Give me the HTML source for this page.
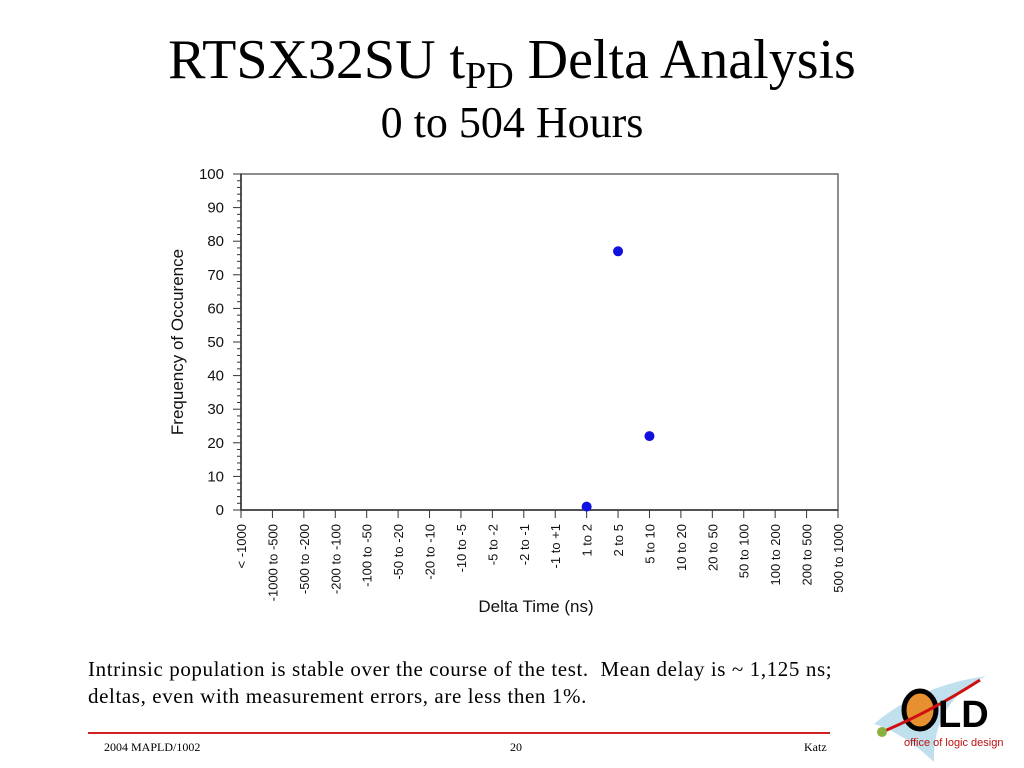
<!DOCTYPE html>
<html><head><meta charset="utf-8"><style>
body{margin:0;width:1024px;height:768px;background:#fff;position:relative;overflow:hidden;font-family:"Liberation Serif",serif}
.t{position:absolute;white-space:nowrap}
</style></head><body>
<div class="t" style="left:0;width:1024px;text-align:center;top:28px;font-size:56px;line-height:64px">RTSX32SU t<sub style="font-size:38px;vertical-align:-10px">PD</sub> Delta Analysis</div>
<div class="t" style="left:0;width:1024px;text-align:center;top:98px;font-size:44px;line-height:50px">0 to 504 Hours</div>
<svg id="chart" width="1024" height="640" style="position:absolute;left:0;top:0" font-family="Liberation Sans, sans-serif"></svg>
<div class="t" style="left:88px;top:656px;font-size:21px;letter-spacing:0.6px;line-height:27px">Intrinsic population is stable over the course of the test.&nbsp; Mean delay is ~ 1,125 ns;<br>deltas, even with measurement errors, are less then 1%.</div>
<div style="position:absolute;left:88px;top:732px;width:742px;height:2px;background:#d02020"></div>
<div class="t" style="left:104px;top:740px;font-size:12px">2004 MAPLD/1002</div>
<div class="t" style="left:510px;top:740px;font-size:12px">20</div>
<div class="t" style="left:804px;top:740px;font-size:12px">Katz</div>
<svg width="150" height="90" style="position:absolute;left:868px;top:672px">
<path d="M6,52 Q50,14 118,4 Q64,30 66,90 Q34,60 6,52Z" fill="#bfe0ec"/>
<ellipse cx="52" cy="38" rx="16" ry="19" fill="#e79030" stroke="#000" stroke-width="5"/>
<path d="M14,60 Q62,40 112,8" stroke="#d01010" stroke-width="3" fill="none"/>
<circle cx="14" cy="60" r="5" fill="#8ab040"/>
<text x="70" y="55" font-family="Liberation Sans, sans-serif" font-weight="bold" font-size="38">LD</text>
<text x="36" y="74" font-family="Liberation Sans, sans-serif" font-size="11" fill="#c01010">office of logic design</text>
</svg>
<script>
const categories=["< -1000","-1000 to -500","-500 to -200","-200 to -100","-100 to -50","-50 to -20","-20 to -10","-10 to -5","-5 to -2","-2 to -1","-1 to +1","1 to 2","2 to 5","5 to 10","10 to 20","20 to 50","50 to 100","100 to 200","200 to 500","500 to 1000"];
const pointCats=["1 to 2","2 to 5","5 to 10"];
const pointVals=[1,77,22];
const yTicks=[0,10,20,30,40,50,60,70,80,90,100];
const svg=document.getElementById('chart');
const NS='http://www.w3.org/2000/svg';
const L=241,R=838,T=174,B=510;
const x=i=>L+i*(R-L)/(categories.length-1);
const y=v=>B-v*(B-T)/100;
function mk(tag,a,p){const e=document.createElementNS(NS,tag);for(const k in a)e.setAttribute(k,a[k]);(p||svg).appendChild(e);return e;}
let e=mk('rect',{x:L,y:T,width:R-L,height:B-T,fill:'none',stroke:'#666','stroke-width':1.5});


e=mk('line',{x1:L,y1:T,x2:L,y2:B,stroke:'#333','stroke-width':1.5});


e=mk('line',{x1:L,y1:B,x2:R,y2:B,stroke:'#333','stroke-width':1.5});


for(let v=0;v<=100;v+=2){const major=v%10===0;mk('line',{x1:L-(major?8:4),y1:y(v),x2:L,y2:y(v),stroke:'#333','stroke-width':1});}
yTicks.forEach(v=>{const t=mk('text',{x:L-17,y:y(v)+5,'text-anchor':'end','font-size':15,fill:'#111'});t.textContent=v;

});
categories.forEach((c,i)=>{mk('line',{x1:x(i),y1:B,x2:x(i),y2:B+8,stroke:'#333','stroke-width':1});
const t=mk('text',{x:0,y:0,'text-anchor':'end','font-size':13,fill:'#111',transform:`translate(${x(i)+5},${B+14}) rotate(-90)`});t.textContent=c;

});
pointCats.forEach((c,k)=>{const i=categories.indexOf(c);const p=mk('circle',{cx:x(i),cy:y(pointVals[k]),r:5,fill:'#1010e0'});

});
let t=mk('text',{x:536,y:612,'text-anchor':'middle','font-size':17,fill:'#111'});t.textContent='Delta Time (ns)';


t=mk('text',{x:0,y:0,'text-anchor':'middle','font-size':17,fill:'#111',transform:'translate(183,342) rotate(-90)'});t.textContent='Frequency of Occurence';


</script>
</body></html>
